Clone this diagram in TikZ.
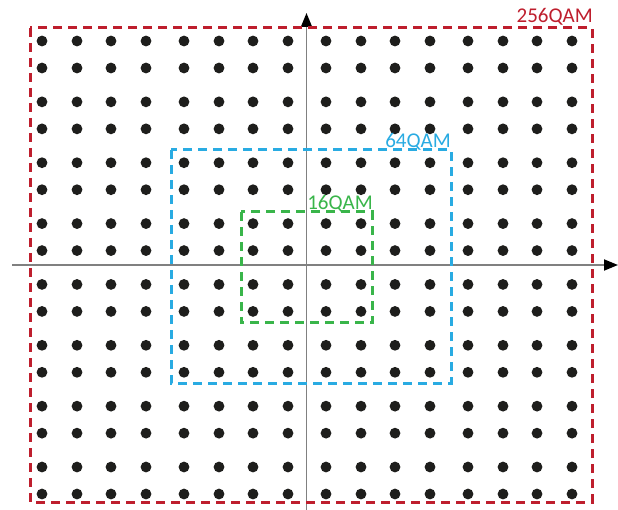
\documentclass[tikz,border=0pt]{standalone}
\usepackage{fontspec}
\setmainfont{Carlito}
\usetikzlibrary{arrows.meta}
\definecolor{qred}{RGB}{190,30,45}
\definecolor{qblue}{RGB}{41,171,226}
\definecolor{qgreen}{RGB}{57,181,74}
\definecolor{qdot}{RGB}{30,30,28}

\begin{document}
\begin{tikzpicture}[x=1pt, y=-1pt,
  qbox/.style={line width=3pt, dash pattern=on 9pt off 6pt},
  qlabel/.style={inner sep=0pt, font=\fontsize{21}{21}\selectfont},
  axis/.style={draw=gray, line width=1.8pt, -{Triangle[length=14pt,width=11pt,color=black]}}]
\useasboundingbox (0,0) rectangle (618,510);
% constellation points
\foreach \g in {0,...,3}
  \foreach \o in {0,35,69,104}
    \foreach \p in {0,...,7}
      \foreach \q in {0,27}
        \fill[qdot] ({42+142*\g+\o},{41+60.86*\p+\q}) circle (5.4pt);
% axes
\coordinate (xl) at (12,265);
\coordinate (xr) at (618,265);
\coordinate (yb) at (306.5,510);
\coordinate (yt) at (306.5,13);
\draw[axis] (xl) -- (xr);
\draw[axis] (yb) -- (yt);
% QAM boxes
\draw[qbox, qred] (30,28) rectangle (592,502);
\draw[qbox, qblue] (171,150) rectangle (451,383);
\draw[qbox, qgreen] (241,212) rectangle (372,323);
\node[qlabel, text=qred, anchor=base east] (l256) at (593,23) {256QAM};
\node[qlabel, text=qblue, anchor=base east] (l64) at (451,148) {64QAM};
\node[qlabel, text=qgreen, anchor=base east] (l16) at (373,210) {16QAM};
\end{tikzpicture}
\end{document}
